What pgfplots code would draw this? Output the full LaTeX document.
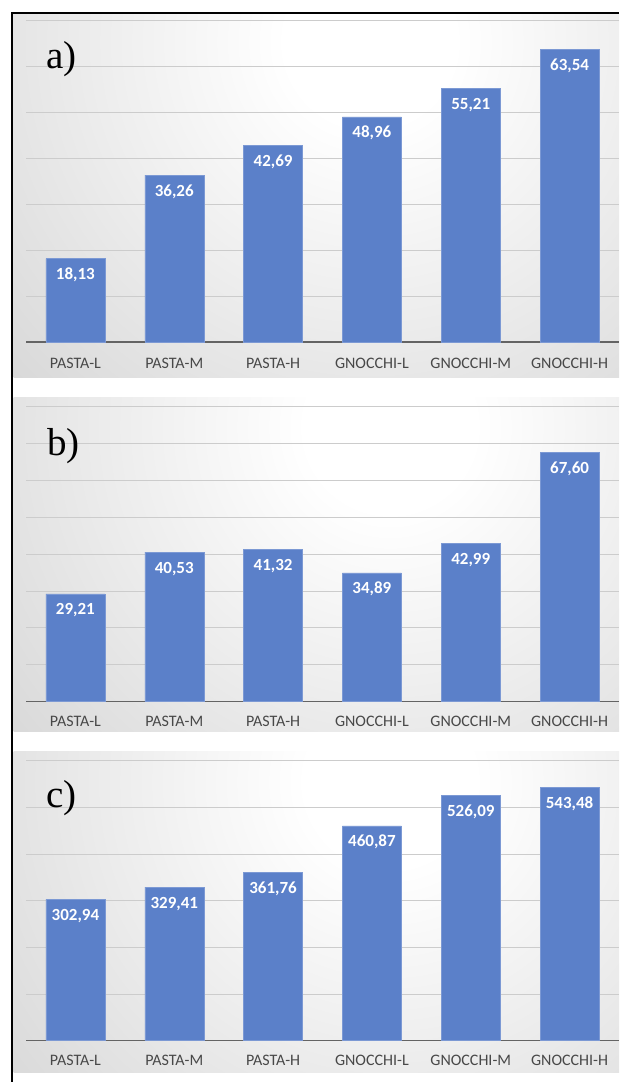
\documentclass[border=0pt]{standalone}
\usepackage{pgfplots}
\pgfplotsset{compat=1.18}
\usepackage{fontspec}
\setmainfont{Carlito}
\newfontfamily\panelfont{Liberation Serif}

\definecolor{barblue}{RGB}{91,128,201}
\definecolor{labelgray}{RGB}{72,72,72}
\definecolor{gridgray}{RGB}{204,204,204}
\definecolor{basegray}{RGB}{100,100,100}
\definecolor{panelgray}{RGB}{176,176,176}

% soft radial background of each panel (gray reached at about 2/3 of the radius)
\pgfdeclareradialshading{panelbg}{\pgfpoint{0bp}{0bp}}{color(0bp)=(white); color(3bp)=(white); color(33bp)=(panelgray); color(50bp)=(panelgray)}

\pgfplotsset{
  panel/.style={
    scale only axis, width=593pt,
    anchor=south west,
    xmin=-0.5, xmax=5.5,
    ymin=0,
    ybar, bar width=59pt,
    axis line style={draw=none},
    xtick={0,...,5},
    xticklabels={PASTA-L,PASTA-M,PASTA-H,GNOCCHI-L,GNOCCHI-M,GNOCCHI-H},
    major tick length=0pt,
    yticklabels={},
    ymajorgrids,
    grid style={draw=gridgray, line width=0.9pt},
    extra y ticks={0},
    extra y tick labels={},
    extra y tick style={grid style={draw=basegray, line width=1.3pt}},
    xticklabel style={font=\fontsize{16}{19}\selectfont, text=labelgray, anchor=center},
    /pgf/number format/assume math mode=true,
    nodes near coords={\pgfmathprintnumber[fixed,fixed zerofill,precision=2,use comma]{\pgfplotspointmeta}},
    every node near coord/.append style={font=\bfseries\fontsize{17}{20}\selectfont, text=white, anchor=base, yshift=-21pt},
    clip=false,
  },
  panelbar/.style={fill=barblue, draw=barblue!80!white, line width=0.5pt},
}

\begin{document}
\begin{tikzpicture}[x=1pt,y=1pt]
% panel backgrounds
\begin{scope}
  \clip (13.5,704.7) rectangle (619,1068);
  \shade[shading=panelbg] (370,1040) circle (700);
\end{scope}
\begin{scope}
  \clip (13.5,350.3) rectangle (619,684);
  \shade[shading=panelbg] (390,655) circle (700);
\end{scope}
\begin{scope}
  \clip (13.5,9.3) rectangle (619,330);
  \shade[shading=panelbg] (390,300) circle (700);
\end{scope}

% a)
\begin{axis}[panel, at={(26pt,740pt)}, height=322pt, ymax=70, ytick={10,20,...,70},
  xticklabel style={yshift=-21.5pt}]
\addplot[panelbar] coordinates {(0,18.13) (1,36.26) (2,42.69) (3,48.96) (4,55.21) (5,63.54)};
\end{axis}

% b)
\begin{axis}[panel, at={(26pt,380.3pt)}, height=295.2pt, ymax=80, ytick={10,20,...,80},
  xticklabel style={yshift=-19.7pt}]
\addplot[panelbar] coordinates {(0,29.21) (1,40.53) (2,41.32) (3,34.89) (4,42.99) (5,67.60)};
\end{axis}

% c)
\begin{axis}[panel, at={(26pt,41.3pt)}, height=279.8pt, ymax=600, ytick={100,200,...,600},
  xticklabel style={yshift=-19.3pt}]
\addplot[panelbar] coordinates {(0,302.94) (1,329.41) (2,361.76) (3,460.87) (4,526.09) (5,543.48)};
\end{axis}

% panel letters
\node[anchor=base west, inner sep=0pt, font=\panelfont\fontsize{39}{44}\selectfont] at (46pt,1013.5pt) {a)};
\node[anchor=base west, inner sep=0pt, font=\panelfont\fontsize{39}{44}\selectfont] at (47pt,626pt) {b)};
\node[anchor=base west, inner sep=0pt, font=\panelfont\fontsize{39}{44}\selectfont] at (46pt,274pt) {c)};

% frame
\draw[line width=2.4pt] (12.2,0) -- (12.2,1069.2) -- (619,1069.2);

\pgfresetboundingbox
\useasboundingbox (0,0) rectangle (619pt,1082pt);
\end{tikzpicture}
\end{document}
